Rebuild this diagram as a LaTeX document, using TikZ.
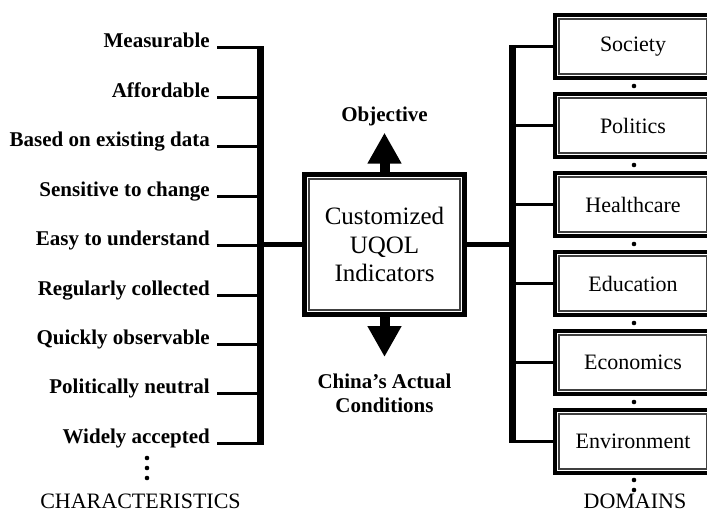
\documentclass[tikz,border=0pt]{standalone}
\usepackage{fontspec}
\setmainfont{Liberation Serif}
\usetikzlibrary{positioning, arrows.meta}

\begin{document}
\begin{tikzpicture}[
    x=1pt, y=-1pt,
    node distance=12pt,
    charItem/.style={anchor=base east, inner xsep=7pt, inner ysep=0pt, font=\fontsize{21}{24}\selectfont\bfseries},
    dirLabel/.style={inner sep=6pt, align=center, font=\fontsize{21}{24}\selectfont\bfseries},
    footLabel/.style={anchor=base, inner sep=0pt, font=\fontsize{22}{26}\selectfont},
    coreBox/.style={rectangle, draw=black, line width=5pt, minimum width=160pt, minimum height=140pt, align=center, font=\fontsize{25}{28.5}\selectfont,
        path picture={\draw[black!75, line width=1.3pt] ([shift={(4.5pt,-4.5pt)}]path picture bounding box.north west) rectangle ([shift={(-4.5pt,4.5pt)}]path picture bounding box.south east);}},
    domainBox/.style={rectangle, draw=black, line width=4pt, minimum width=156pt, minimum height=63pt, font=\fontsize{22}{26}\selectfont,
        path picture={\draw[black!75, line width=1.2pt] ([shift={(4pt,-4pt)}]path picture bounding box.north west) rectangle ([shift={(-4pt,4pt)}]path picture bounding box.south east);}},
    branch/.style={line width=3pt},
    trunk/.style={line width=5pt},
    spine/.style={line width=7pt, shorten <=-1.5pt, shorten >=-1.5pt},
    bigArrow/.style={line width=10pt, -{Triangle[length=31pt, width=32pt]}},
    dotMark/.style={fill=black}
]
\useasboundingbox (0,0) rectangle (707,513);
\clip (0,0) rectangle (707,513);

% ============== CHARACTERISTICS ==============
\node[charItem] (c1) at (217,48)    {Measurable};
\node[charItem] (c2) at (217,97.4)  {Affordable};
\node[charItem] (c3) at (217,146.8) {Based on existing data};
\node[charItem] (c4) at (217,196.2) {Sensitive to change};
\node[charItem] (c5) at (217,245.6) {Easy to understand};
\node[charItem] (c6) at (217,295)   {Regularly collected};
\node[charItem] (c7) at (217,344.4) {Quickly observable};
\node[charItem] (c8) at (217,393.8) {Politically neutral};
\node[charItem] (c9) at (217,443.2) {Widely accepted};
\node[footLabel] (chars) at (140.5,508) {CHARACTERISTICS};
\coordinate (lbar) at (260,0);

% ============== CORE ==============
\node[coreBox] (core) at (384.5,244.5) {Customized\\UQOL\\Indicators};
\node[dirLabel, anchor=base]  (obj)   at (384.5,122) {Objective};
\node[dirLabel, anchor=north] (china) at (384.5,368) {China’s Actual\\Conditions};

% ============== DOMAINS ==============
\node[domainBox] (dSoc) at (633,46.5) {Society};
\node[domainBox, below=of dSoc] (dPol) {Politics};
\node[domainBox, below=of dPol] (dHea) {Healthcare};
\node[domainBox, below=of dHea] (dEdu) {Education};
\node[domainBox, below=of dEdu] (dEco) {Economics};
\node[domainBox, below=of dEco] (dEnv) {Environment};
\node[footLabel] (doms) at (635,508) {DOMAINS};
\coordinate (rbar) at (512,0);

% ============== Left links ==============
\draw[branch] (c1.base east) -- (c1.base east -| lbar);
\draw[branch] (c2.base east) -- (c2.base east -| lbar);
\draw[branch] (c3.base east) -- (c3.base east -| lbar);
\draw[branch] (c4.base east) -- (c4.base east -| lbar);
\draw[branch] (c5.base east) -- (c5.base east -| lbar);
\draw[branch] (c6.base east) -- (c6.base east -| lbar);
\draw[branch] (c7.base east) -- (c7.base east -| lbar);
\draw[branch] (c8.base east) -- (c8.base east -| lbar);
\draw[branch] (c9.base east) -- (c9.base east -| lbar);
\draw[spine] (c1.base east -| lbar) -- (c9.base east -| lbar);
\draw[trunk] (core.west -| lbar) -- (core.west);

% ============== Right links ==============
\draw[trunk] (core.east) -- (core.east -| rbar);
\draw[spine] (dSoc.west -| rbar) -- (dEnv.west -| rbar);
\draw[branch] (dSoc.west -| rbar) -- (dSoc.west);
\draw[branch] (dPol.west -| rbar) -- (dPol.west);
\draw[branch] (dHea.west -| rbar) -- (dHea.west);
\draw[branch] (dEdu.west -| rbar) -- (dEdu.west);
\draw[branch] (dEco.west -| rbar) -- (dEco.west);
\draw[branch] (dEnv.west -| rbar) -- (dEnv.west);

% ============== Arrows ==============
\draw[bigArrow] (core.north) -- (obj.south);
\draw[bigArrow, shorten >=11pt] (core.south) -- (china.north);

% ============== Dots ==============
\foreach \y in {458,468,478} \fill[dotMark] (147,\y) circle (2.3pt);
\foreach \y in {86,165,244,323,402,480,490} \fill[dotMark] (634,\y) circle (2.3pt);
\end{tikzpicture}
\end{document}
